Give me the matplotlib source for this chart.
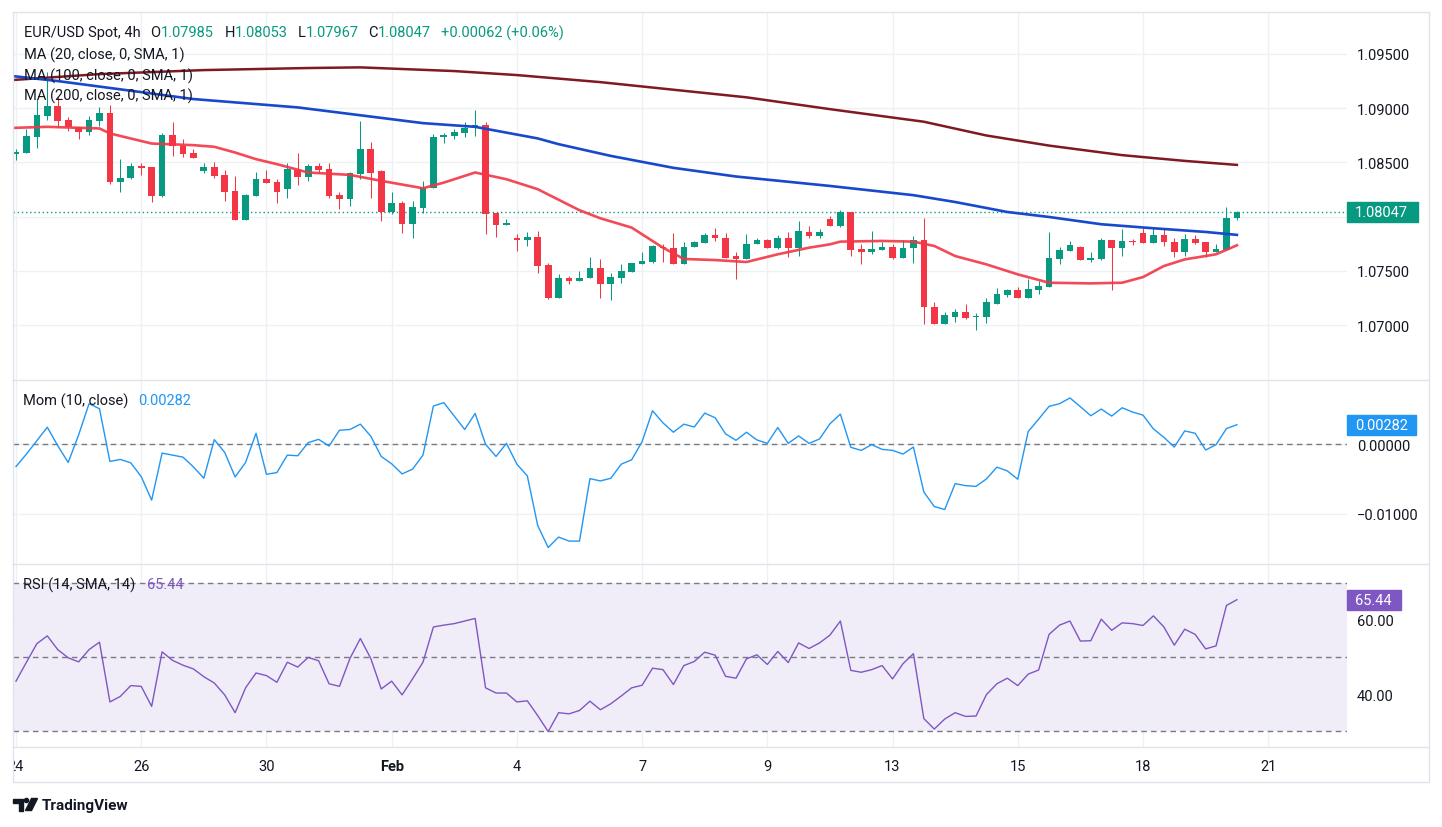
import numpy as np
import matplotlib
matplotlib.use("Agg")
import matplotlib.pyplot as plt
from matplotlib.lines import Line2D
from matplotlib.patches import Rectangle, Circle, Polygon
from matplotlib.transforms import blended_transform_factory

plt.rcParams['font.family'] = ['Roboto', 'DejaVu Sans']

# ---- data ----
opens = [1.08582, 1.08588, 1.08736, 1.08930, 1.09016, 1.08890, 1.08822, 1.08782, 1.08884, 1.08954,
         1.08320, 1.08357, 1.08468, 1.08459, 1.08191, 1.08751, 1.08647, 1.08585, 1.08422, 1.08459,
         1.08385, 1.08237, 1.07970, 1.08191, 1.08345, 1.08320, 1.08253, 1.08428, 1.08367, 1.08468,
         1.08437, 1.08197, 1.08167, 1.08391, 1.08622, 1.08422, 1.08043, 1.08124, 1.07936, 1.08084,
         1.08265, 1.08730, 1.08745, 1.08770, 1.08813, 1.08844, 1.08031, 1.07923, 1.07800, 1.07785,
         1.07813, 1.07551, 1.07247, 1.07431, 1.07406, 1.07437, 1.07523, 1.07376, 1.07431, 1.07490,
         1.07560, 1.07582, 1.07723, 1.07714, 1.07560, 1.07720, 1.07754, 1.07828, 1.07807, 1.07637,
         1.07606, 1.07745, 1.07782, 1.07708, 1.07807, 1.07708, 1.07862, 1.07822, 1.07982, 1.07914,
         1.08043, 1.07699, 1.07674, 1.07693, 1.07723, 1.07616, 1.07708, 1.07782, 1.07169, 1.07006,
         1.07077, 1.07123, 1.07074, 1.07074, 1.07197, 1.07274, 1.07323, 1.07247, 1.07320, 1.07351,
         1.07606, 1.07684, 1.07723, 1.07600, 1.07606, 1.07785, 1.07708, 1.07779, 1.07846, 1.07754,
         1.07828, 1.07770, 1.07674, 1.07791, 1.07762, 1.07674, 1.07693, 1.07985]
highs = [1.08622, 1.08807, 1.09084, 1.09333, 1.09114, 1.08920, 1.08828, 1.08927, 1.09013, 1.09031,
         1.08530, 1.08493, 1.08499, 1.08459, 1.08770, 1.08874, 1.08714, 1.08628, 1.08493, 1.08508,
         1.08428, 1.08376, 1.08207, 1.08413, 1.08428, 1.08345, 1.08493, 1.08585, 1.08484, 1.08493,
         1.08493, 1.08231, 1.08413, 1.08884, 1.08690, 1.08431, 1.08228, 1.08145, 1.08145, 1.08330,
         1.08760, 1.08770, 1.08807, 1.08877, 1.08985, 1.08874, 1.08037, 1.07976, 1.07837, 1.07859,
         1.07868, 1.07576, 1.07468, 1.07453, 1.07499, 1.07628, 1.07606, 1.07484, 1.07560, 1.07576,
         1.07674, 1.07736, 1.07751, 1.07846, 1.07767, 1.07776, 1.07853, 1.07893, 1.07853, 1.07677,
         1.07837, 1.07800, 1.07791, 1.07828, 1.07859, 1.07960, 1.07914, 1.07884, 1.08007, 1.08059,
         1.08043, 1.07745, 1.07868, 1.07770, 1.07745, 1.07782, 1.07822, 1.07985, 1.07215, 1.07123,
         1.07151, 1.07191, 1.07111, 1.07253, 1.07345, 1.07330, 1.07354, 1.07422, 1.07406, 1.07859,
         1.07723, 1.07776, 1.07730, 1.07677, 1.07807, 1.07785, 1.07884, 1.07791, 1.07893, 1.07899,
         1.07884, 1.07800, 1.07837, 1.07828, 1.07770, 1.07751, 1.08093, 1.08053]
lows = [1.08520, 1.08588, 1.08637, 1.08890, 1.08828, 1.08791, 1.08714, 1.08754, 1.08837, 1.08299,
        1.08228, 1.08351, 1.08385, 1.08136, 1.08182, 1.08560, 1.08551, 1.08542, 1.08407, 1.08360,
        1.08145, 1.07970, 1.07970, 1.08191, 1.08314, 1.08124, 1.08176, 1.08293, 1.08330, 1.08407,
        1.08170, 1.08068, 1.08099, 1.08345, 1.08170, 1.07960, 1.08028, 1.07850, 1.07803, 1.08037,
        1.08265, 1.08677, 1.08714, 1.08736, 1.08745, 1.07837, 1.07813, 1.07923, 1.07684, 1.07730,
        1.07477, 1.07237, 1.07247, 1.07376, 1.07406, 1.07437, 1.07247, 1.07228, 1.07391, 1.07490,
        1.07560, 1.07570, 1.07582, 1.07560, 1.07560, 1.07720, 1.07754, 1.07776, 1.07616, 1.07422,
        1.07606, 1.07745, 1.07708, 1.07699, 1.07628, 1.07637, 1.07800, 1.07807, 1.07914, 1.07905,
        1.07637, 1.07560, 1.07653, 1.07693, 1.07606, 1.07616, 1.07570, 1.07006, 1.07006, 1.07006,
        1.07031, 1.07053, 1.06951, 1.07016, 1.07191, 1.07259, 1.07247, 1.07247, 1.07283, 1.07351,
        1.07560, 1.07684, 1.07600, 1.07585, 1.07600, 1.07323, 1.07637, 1.07739, 1.07754, 1.07754,
        1.07730, 1.07628, 1.07637, 1.07745, 1.07631, 1.07674, 1.07693, 1.07967]
closes = [1.08594, 1.08742, 1.08936, 1.09016, 1.08884, 1.08822, 1.08782, 1.08890, 1.08954, 1.08320,
          1.08360, 1.08468, 1.08453, 1.08191, 1.08751, 1.08647, 1.08576, 1.08542, 1.08459, 1.08376,
          1.08228, 1.07970, 1.08197, 1.08345, 1.08314, 1.08228, 1.08437, 1.08367, 1.08468, 1.08431,
          1.08191, 1.08167, 1.08400, 1.08622, 1.08400, 1.08043, 1.08124, 1.07936, 1.08090, 1.08268,
          1.08736, 1.08751, 1.08782, 1.08816, 1.08844, 1.08028, 1.07923, 1.07939, 1.07785, 1.07813,
          1.07545, 1.07247, 1.07431, 1.07406, 1.07437, 1.07523, 1.07376, 1.07443, 1.07499, 1.07570,
          1.07588, 1.07730, 1.07708, 1.07560, 1.07723, 1.07767, 1.07828, 1.07800, 1.07622, 1.07606,
          1.07751, 1.07782, 1.07708, 1.07807, 1.07708, 1.07868, 1.07822, 1.07862, 1.07914, 1.08043,
          1.07693, 1.07674, 1.07699, 1.07723, 1.07616, 1.07714, 1.07782, 1.07166, 1.07006, 1.07090,
          1.07123, 1.07068, 1.07083, 1.07215, 1.07283, 1.07320, 1.07247, 1.07330, 1.07360, 1.07616,
          1.07690, 1.07736, 1.07600, 1.07616, 1.07785, 1.07714, 1.07776, 1.07770, 1.07754, 1.07828,
          1.07767, 1.07674, 1.07791, 1.07754, 1.07674, 1.07699, 1.07991, 1.08047]

ma20_x = [-1, 3, 8, 9, 13, 17, 19, 21, 23, 25, 28, 32, 35, 39, 41, 44, 47, 50, 54, 56,
          59, 62, 64, 67, 70, 73, 76, 78, 79, 83, 86, 88, 90, 93, 96, 99, 103, 106, 108, 110,
          112, 115, 117]
ma20_y = [1.08816, 1.08828, 1.08813, 1.08767, 1.08674, 1.08659, 1.08644, 1.08591, 1.08530, 1.08484,
          1.08407, 1.08385, 1.08330, 1.08262, 1.08314, 1.08407, 1.08345, 1.08253, 1.08059, 1.07985,
          1.07899, 1.07714, 1.07610, 1.07600, 1.07582, 1.07653, 1.07714, 1.07745, 1.07770, 1.07776,
          1.07770, 1.07730, 1.07637, 1.07560, 1.07468, 1.07391, 1.07385, 1.07391, 1.07443, 1.07545,
          1.07606, 1.07653, 1.07736]
ma100_x = [-1, 4, 17, 27, 39, 44, 50, 52, 57, 63, 69, 78, 86, 90, 95, 99, 104, 109, 114, 117]
ma100_y = [1.09303, 1.09250, 1.09084, 1.09007, 1.08862, 1.08828, 1.08721, 1.08668, 1.08560, 1.08450,
           1.08370, 1.08283, 1.08198, 1.08135, 1.08043, 1.07997, 1.07930, 1.07893, 1.07859, 1.07832]
ma200_x = [-1, 8, 18, 28, 33, 42, 48, 56, 60, 70, 78, 87, 93, 99, 106, 112, 117]
ma200_y = [1.09255, 1.09314, 1.09351, 1.09370, 1.09376, 1.09342, 1.09305, 1.09240, 1.09200, 1.09100,
           1.08991, 1.08875, 1.08748, 1.08655, 1.08567, 1.08514, 1.08477]

mom = [-0.00319, -0.00140, 0.00053, 0.00246, -0.00019, -0.00261, 0.00135, 0.00584, 0.00512, -0.00246,
       -0.00217, -0.00266, -0.00464, -0.00802, -0.00126, -0.00155, -0.00184, -0.00324, -0.00488, 0.00068,
       -0.00116, -0.00469, -0.00261, 0.00159, -0.00430, -0.00406, -0.00155, -0.00164, 0.00024, 0.00072,
       -0.00024, 0.00203, 0.00213, 0.00290, 0.00116, -0.00174, -0.00280, -0.00425, -0.00357, -0.00155,
       0.00551, 0.00599, 0.00406, 0.00213, 0.00444, 0.00000, -0.00174, 0.00014, -0.00285, -0.00454,
       -0.01169, -0.01483, -0.01333, -0.01391, -0.01391, -0.00493, -0.00526, -0.00488, -0.00285, -0.00222,
       0.00039, 0.00483, 0.00309, 0.00174, 0.00290, 0.00249, 0.00449, 0.00382, 0.00150, 0.00058,
       0.00174, 0.00063, 0.00014, 0.00242, 0.00014, 0.00121, 0.00014, 0.00077, 0.00295, 0.00435,
       -0.00043, -0.00087, -0.00005, -0.00072, -0.00087, -0.00140, -0.00039, -0.00686, -0.00894, -0.00937,
       -0.00565, -0.00594, -0.00604, -0.00497, -0.00328, -0.00382, -0.00502, 0.00184, 0.00362, 0.00546,
       0.00584, 0.00667, 0.00541, 0.00411, 0.00507, 0.00406, 0.00526, 0.00464, 0.00420, 0.00222,
       0.00101, -0.00039, 0.00193, 0.00159, -0.00082, -0.00005, 0.00227, 0.00282]

rsi = [43.5, 48.6, 53.6, 55.7, 52.0, 49.8, 48.7, 52.0, 54.0, 37.9,
       39.4, 42.3, 42.1, 36.7, 51.4, 49.1, 47.8, 46.8, 44.7, 43.0,
       39.8, 35.0, 41.7, 45.7, 45.0, 43.2, 48.6, 47.3, 49.9, 49.0,
       42.8, 42.1, 49.6, 55.0, 49.6, 41.4, 43.5, 39.8, 44.1, 48.6,
       58.1, 58.6, 59.0, 59.7, 60.4, 41.7, 40.3, 40.3, 37.9, 38.2,
       34.2, 29.9, 35.0, 34.7, 35.6, 38.1, 35.8, 37.4, 39.5, 41.7,
       42.4, 47.0, 46.6, 42.6, 47.7, 48.8, 51.3, 50.5, 44.8, 44.3,
       49.5, 50.6, 48.0, 51.5, 48.5, 53.8, 52.3, 53.8, 55.9, 59.7,
       46.4, 45.9, 46.6, 47.7, 44.1, 48.2, 50.9, 33.4, 30.6, 33.3,
       35.0, 34.0, 34.1, 39.9, 42.8, 44.3, 42.3, 45.4, 46.5, 56.1,
       58.6, 59.7, 54.3, 54.4, 60.2, 57.2, 59.2, 59.0, 58.5, 61.1,
       58.1, 53.2, 57.5, 56.1, 52.2, 53.0, 63.9, 65.44]

date_pos = [0, 12, 24, 36, 48, 60, 72, 84, 96, 108, 120]
date_lbl = ["24", "26", "30", "Feb", "4", "7", "9", "13", "15", "18", "21"]
price_ticks = [1.07, 1.075, 1.08, 1.085, 1.09, 1.095]
price_lbl = ["1.07000", "1.07500", "", "1.08500", "1.09000", "1.09500"]
mom_ticks = [-0.01, 0.0]
mom_lbl = ["\u22120.01000", "0.00000"]
rsi_ticks = [40, 60]
rsi_lbl = ["40.00", "60.00"]
last_price = 1.08047
last_mom = 0.00282
last_rsi = 65.44

# ---- style ----
GREEN = '#089981'
RED = '#f23645'
DARK = '#131722'
GRID = '#eef0f4'
BORDER = '#e0e3eb'
DASH = '#787b86'
BLUE = '#2196f3'
PURPLE = '#7e57c2'
FS = 10.5

W, H = 1442, 828
fig = plt.figure(figsize=(W / 100, H / 100), dpi=100)
fig.patch.set_facecolor('white')


def px_rect(x0, y0, x1, y1):
    return [x0 / W, 1 - y1 / H, (x1 - x0) / W, (y1 - y0) / H]


L, R = 12.5, 1347
ax_p = fig.add_axes(px_rect(L, 12.5, R, 380.5))
ax_m = fig.add_axes(px_rect(L, 380.5, R, 564.5))
ax_r = fig.add_axes(px_rect(L, 564.5, R, 748))

for ax in (ax_p, ax_m, ax_r):
    ax.set_xlim(-0.335, 127.55)
    for s in ax.spines.values():
        s.set_visible(False)
    ax.set_xticks(date_pos)
    ax.tick_params(axis='x', length=0, labelbottom=False)
    ax.yaxis.tick_right()
    ax.tick_params(axis='y', length=0, pad=7.2, labelsize=FS, labelcolor=DARK)
    ax.grid(True, color=GRID, lw=1)
    ax.set_axisbelow(True)

# price pane
ax_p.set_ylim(1.06499, 1.09891)
ax_p.set_yticks(price_ticks)
ax_p.set_yticklabels(price_lbl)

o = np.array(opens)
h = np.array(highs)
l = np.array(lows)
c = np.array(closes)
idx = np.arange(len(c))
cols = np.where(c >= o, GREEN, RED)
ax_p.vlines(idx, l, h, colors=cols, lw=0.75, zorder=3)
ax_p.bar(idx, np.maximum(np.abs(c - o), 0.00009), bottom=np.minimum(o, c),
         width=0.64, color=cols, linewidth=0, zorder=3)

ax_p.plot(ma200_x, ma200_y, color='#801922', lw=1.8, zorder=4)
ax_p.plot(ma100_x, ma100_y, color='#1848cc', lw=1.9, zorder=4)
ax_p.plot(ma20_x, ma20_y, color=RED, lw=1.9, alpha=0.9, zorder=4)
ax_p.axhline(last_price, color=GREEN, lw=1, ls=(0, (1, 2)), zorder=2)

# momentum pane
ax_m.set_ylim(-0.01713, 0.00932)
ax_m.set_yticks(mom_ticks)
ax_m.set_yticklabels(mom_lbl)
ax_m.axhline(0, color=DASH, lw=1, ls=(0, (4, 3)), zorder=2)
ax_m.plot(idx, mom, color=BLUE, lw=1.0, zorder=3)

# rsi pane
ax_r.set_ylim(25.76, 75.2)
ax_r.set_yticks(rsi_ticks)
ax_r.set_yticklabels(rsi_lbl)
ax_r.axhspan(30, 70, color=PURPLE, alpha=0.1, lw=0, zorder=0)
for lvl in (30, 50, 70):
    ax_r.axhline(lvl, color=DASH, lw=1, ls=(0, (4, 3)), zorder=2)
ax_r.plot(idx, rsi, color=PURPLE, lw=1.0, zorder=3)


def badge(ax, val, txt, color, w_px, h_px=20):
    y0, y1 = ax.get_ylim()
    ax_h = ax.get_position().height * H
    ax_w = ax.get_position().width * W
    dy = h_px / 2 * (y1 - y0) / ax_h
    tr = blended_transform_factory(ax.transAxes, ax.transData)
    ax.add_patch(Rectangle((1.0, val - dy), w_px / ax_w, 2 * dy, transform=tr,
                           color=color, clip_on=False, zorder=10))
    ax.text(1.0 + 8 / ax_w, val, txt, transform=tr, color='white', fontsize=FS,
            va='center', ha='left', clip_on=False, zorder=11)


badge(ax_p, last_price, "1.08047", GREEN, 71)
badge(ax_m, last_mom, "0.00282", BLUE, 69)
badge(ax_r, last_rsi, "65.44", PURPLE, 54)

# date axis
ax_d = fig.add_axes(px_rect(L, 748, R, 783))
ax_d.set_xlim(-0.335, 127.55)
ax_d.set_ylim(0, 1)
ax_d.axis('off')
for p, t in zip(date_pos, date_lbl):
    ax_d.text(p, 0.46, t, ha='center', va='center', fontsize=FS, color=DARK,
              fontweight='bold' if t == "Feb" else 'normal', clip_on=True)

# borders
def fline(xs, ys):
    fig.add_artist(Line2D([x / W for x in xs], [1 - y / H for y in ys],
                          color=BORDER, lw=1, transform=fig.transFigure))


fline([12.5, 1429, 1429, 12.5, 12.5], [12.5, 12.5, 783, 783, 12.5])
fline([12.5, 1429], [380.5, 380.5])
fline([12.5, 1429], [564.5, 564.5])
fline([12.5, 1429], [748, 748])

# legends
renderer = fig.canvas.get_renderer()


def chain(x, y, parts):
    for txt, color, gap in parts:
        t = fig.text(x / W, 1 - y / H, txt, color=color, fontsize=FS, va='center', ha='left')
        x += t.get_window_extent(renderer).width + gap


chain(23.8, 33.3, [("EUR/USD Spot, 4h", DARK, 10), ("O", DARK, 0), ("1.07985", GREEN, 11),
                   ("H", DARK, 0), ("1.08053", GREEN, 10), ("L", DARK, 0), ("1.07967", GREEN, 10),
                   ("C", DARK, 0), ("1.08047", GREEN, 10), ("+0.00062 (+0.06%)", GREEN, 0)])
chain(23.8, 55, [("MA (20, close, 0, SMA, 1)", DARK, 0)])
chain(23.8, 76, [("MA (100, close, 0, SMA, 1)", DARK, 0)])
chain(23.8, 96.7, [("MA (200, close, 0, SMA, 1)", DARK, 0)])
chain(23.2, 401, [("Mom (10, close)", DARK, 10), ("0.00282", BLUE, 0)])
chain(23.2, 585, [("RSI (14, SMA, 14)", DARK, 12), ("65.44", PURPLE, 0)])

# TradingView mark
ax_logo = fig.add_axes(px_rect(12, 797, 40, 814))
ax_logo.set_xlim(0, 28)
ax_logo.set_ylim(17, 0)
ax_logo.axis('off')
ax_logo.add_patch(Polygon([(1, 2.5), (10.5, 2.5), (10.5, 14.5), (6.5, 14.5), (6.5, 6.5), (1, 6.5)], color=DARK))
ax_logo.add_patch(Circle((14.5, 4.5), 2.1, color=DARK))
ax_logo.add_patch(Polygon([(19.5, 2.5), (25.5, 2.5), (19.5, 14.5), (13.5, 14.5)], color=DARK))
fig.text(42 / W, 1 - 806 / H, "TradingView", color=DARK, fontsize=11, fontweight='bold',
         va='center', ha='left')

fig.savefig('out.png', dpi=100)
